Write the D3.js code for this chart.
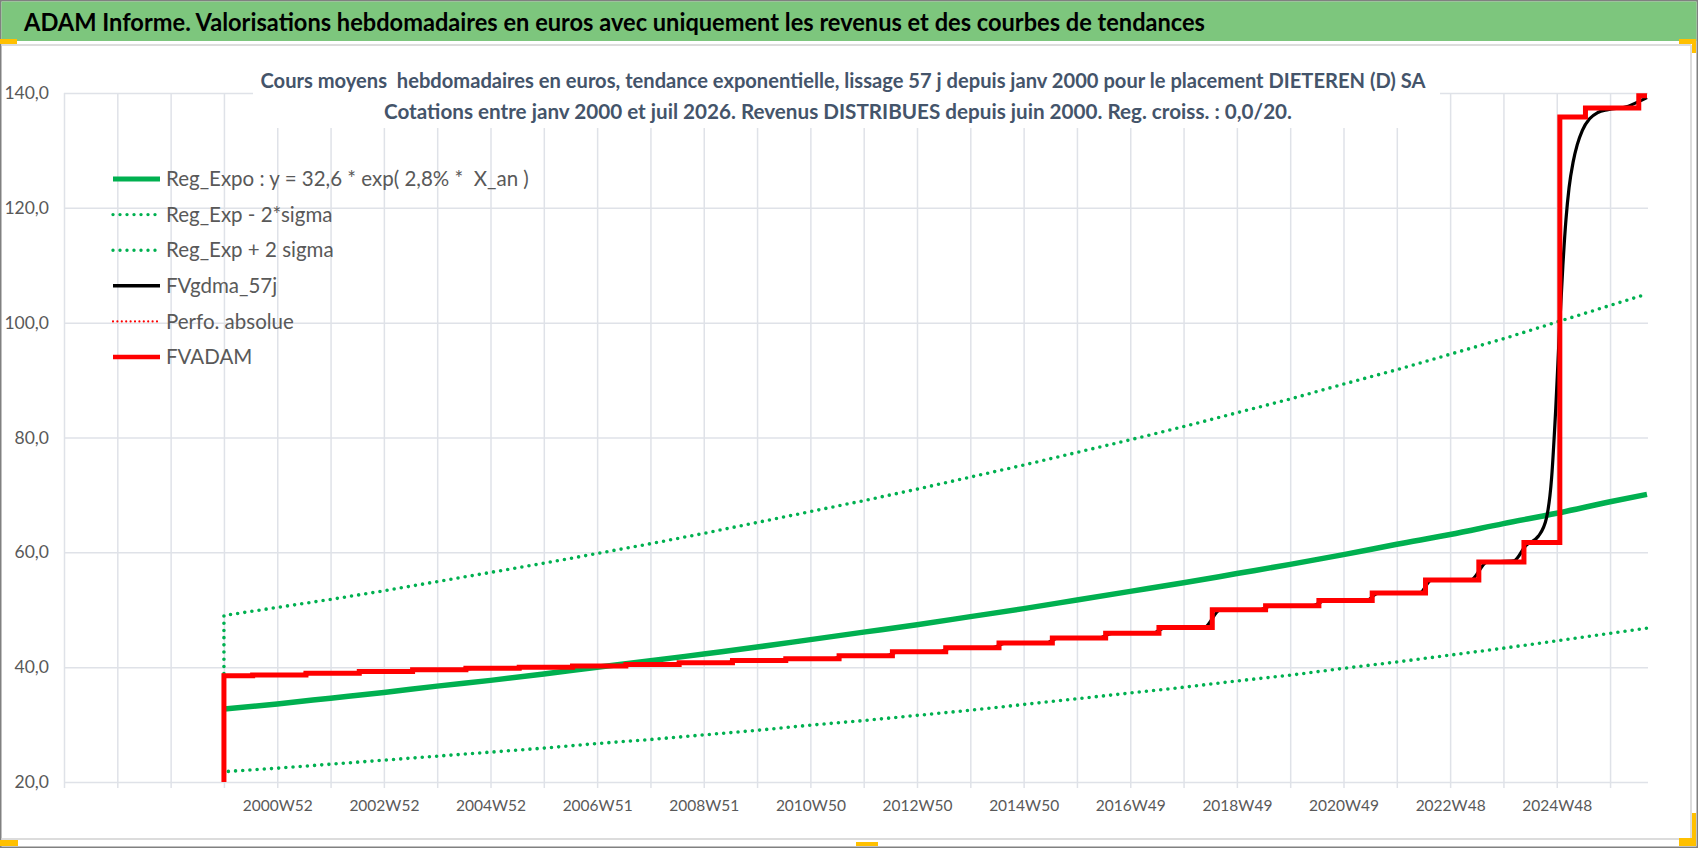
<!DOCTYPE html>
<html><head><meta charset="utf-8">
<script src="https://cdn.jsdelivr.net/npm/d3@7"></script>
<style>html,body{margin:0;padding:0;background:#fff;overflow:hidden}svg{display:block}text{white-space:pre}</style>
</head><body>
<svg id="c" width="1698" height="848"></svg>
<script>
// ---------------- DATA ----------------
const mainTitle = "ADAM Informe. Valorisations hebdomadaires en euros avec uniquement les revenus et des courbes de tendances";
const subTitle1 = "Cours moyens  hebdomadaires en euros, tendance exponentielle, lissage 57 j depuis janv 2000 pour le placement DIETEREN (D) SA";
const subTitle2 = "Cotations entre janv 2000 et juil 2026. Revenus DISTRIBUES depuis juin 2000. Reg. croiss. : 0,0/20.";
const legendLabels = ["Reg_Expo : y = 32,6 * exp( 2,8% *  X_an )", "Reg_Exp - 2*sigma", "Reg_Exp + 2 sigma", "FVgdma_57j", "Perfo. absolue", "FVADAM"];
const yTicks = [20, 40, 60, 80, 100, 120, 140];
const xTickLabels = ["2000W52","2002W52","2004W52","2006W51","2008W51","2010W50","2012W50","2014W50","2016W49","2018W49","2020W49","2022W48","2024W48"];
const xLabelTickIdx = [4,6,8,10,12,14,16,18,20,22,24,26,28];   // in units of 52-week ticks
const weeksBeforeStart = 156;   // empty categories before janv 2000
const totalCategories = 1545;
const preStartValue = 0;        // blank cells plotted as zero before the first quote

// trend curves, sampled yearly (weeks since janv 2000)
const trendWeeks = [0,52,104,156,208,260,312,364,416,468,520,572,624,676,728,780,832,884,936,988,1040,1092,1144,1196,1248,1300,1352,1388];
const regExpo  = [32.7,33.6,34.6,35.6,36.7,37.7,38.8,40.0,41.1,42.3,43.5,44.8,46.1,47.4,48.8,50.2,51.7,53.2,54.7,56.3,57.9,59.6,61.4,63.1,65.0,66.8,68.8,70.1];
const regMinus = [21.8,22.4,23.1,23.8,24.5,25.2,25.9,26.7,27.4,28.2,29.0,29.9,30.7,31.6,32.5,33.5,34.5,35.5,36.5,37.6,38.6,39.8,40.9,42.1,43.3,44.6,45.9,46.8];
const regPlus  = [49.0,50.4,51.8,53.3,54.9,56.5,58.1,59.8,61.5,63.3,65.2,67.1,69.0,71.0,73.1,75.2,77.4,79.6,81.9,84.3,86.7,89.3,91.8,94.5,97.2,100.1,103.0,105.0];

// FVADAM step series (week of change, value)
const redWeeks  = [0,28,80,132,184,236,288,340,392,444,496,548,600,652,704,756,808,860,912,964,1016,1068,1120,1172,1224,1268,1303,1328,1380,1388];
const redValues = [38.5,38.65,38.95,39.25,39.55,39.8,40.0,40.2,40.45,40.75,41.15,41.45,42.0,42.7,43.4,44.2,45.1,45.9,46.9,50.0,50.7,51.6,52.9,55.2,58.3,61.7,135.8,137.4,139.5,139.5];

// FVgdma_57j smoothed series
const blackWeeks  = [0,22,34,74,86,126,138,178,190,230,242,282,294,334,346,386,398,438,450,490,502,542,554,594,606,646,658,698,710,750,762,802,814,854,866,906,918,956,972,1010,1022,1062,1074,1114,1126,1166,1178,1216,1232,1258,1270,1282,1290,1295,1299,1303,1306,1309,1312,1316,1320,1325,1332,1340,1350,1368,1381,1388];
const blackValues = [38.5,38.5,38.65,38.65,38.95,38.95,39.25,39.25,39.55,39.55,39.8,39.8,40.0,40.0,40.2,40.2,40.45,40.45,40.75,40.75,41.15,41.15,41.45,41.45,42.0,42.0,42.7,42.7,43.4,43.4,44.2,44.2,45.1,45.1,45.9,45.9,46.9,46.9,50.0,50.0,50.7,50.7,51.6,51.6,52.9,52.9,55.2,55.2,58.3,58.5,61.2,62.8,66,73,85,100,110,118,123.5,128,131,133.5,135.5,136.6,137.1,137.6,138.6,139.2];

// ---------------- CHART ----------------
const svg = d3.select("#c");
const FONT = "Lato, 'Open Sans', 'DejaVu Sans', sans-serif";
const GREEN = "#00B050", RED = "#FF0000", GRID = "#dfe2e8";

const x = d3.scaleLinear().domain([0, totalCategories]).range([64, 1648]);
const y = d3.scaleLinear().domain([20, 140]).range([782, 93]);
const xw = w => x(w + weeksBeforeStart);

// frame
svg.append("rect").attr("x",0.75).attr("y",0.75).attr("width",1696.5).attr("height",846.5)
  .attr("fill","#fff").attr("stroke","#808080").attr("stroke-width",1.5);
svg.append("rect").attr("x",1.5).attr("y",1.5).attr("width",1695).attr("height",39.5).attr("fill","#7DC67D");
svg.append("line").attr("x1",1.5).attr("x2",1691).attr("y1",45).attr("y2",45).attr("stroke","#dcdcdc").attr("stroke-width",2);
svg.append("line").attr("x1",1691).attr("x2",1691).attr("y1",45).attr("y2",839).attr("stroke","#dcdcdc").attr("stroke-width",2);
svg.append("line").attr("x1",1.5).attr("x2",1691).attr("y1",839).attr("y2",839).attr("stroke","#dcdcdc").attr("stroke-width",2);

// gridlines
const gx = svg.append("g").attr("transform","translate(0,788)")
  .call(d3.axisBottom(x).tickValues(d3.range(0,30).map(k=>k*52)).tickSize(-(788-93)).tickFormat(""));
gx.select(".domain").remove();
gx.selectAll("line").attr("stroke",GRID).attr("stroke-width",1.5);
const gy = svg.append("g").attr("transform","translate(64,0)")
  .call(d3.axisLeft(y).tickValues(yTicks).tickSize(-(1648-64)).tickFormat(""));
gy.select(".domain").remove();
gy.selectAll("line").attr("stroke",GRID).attr("stroke-width",1.5);

// y labels
const yl = svg.append("g").attr("transform","translate(64,0)")
  .call(d3.axisLeft(y).tickValues(yTicks).tickSize(0).tickPadding(15).tickFormat(d=>d3.format(".1f")(d).replace(".",",")));
yl.select(".domain").remove();
yl.selectAll("text").attr("font-family",FONT).attr("font-size",17.5).attr("fill","#595959");

// x labels
const xl = svg.append("g").attr("transform","translate(0,800)")
  .call(d3.axisBottom(x).tickValues(xLabelTickIdx.map(k=>k*52)).tickSize(0).tickPadding(0)
    .tickFormat((d,i)=>xTickLabels[i]));
xl.select(".domain").remove();
xl.selectAll("text").attr("font-family",FONT).attr("font-size",15.5).attr("fill","#595959").attr("dy","0.71em");

// title box (white, hides gridlines)
svg.append("rect").attr("x",253).attr("y",47).attr("width",1187).attr("height",81).attr("fill","#fff");

// main title
svg.append("text").attr("x",24).attr("y",31).text(mainTitle)
  .attr("font-family",FONT).attr("font-weight",700).attr("font-size",25).attr("fill","#000")
  .attr("textLength",1181).attr("lengthAdjust","spacingAndGlyphs");
svg.append("text").attr("x",843).attr("y",88).attr("text-anchor","middle").text(subTitle1)
  .attr("font-family",FONT).attr("font-weight",700).attr("font-size",21).attr("fill","#44546A")
  .attr("textLength",1165).attr("lengthAdjust","spacingAndGlyphs");
svg.append("text").attr("x",838).attr("y",119).attr("text-anchor","middle").text(subTitle2)
  .attr("font-family",FONT).attr("font-weight",700).attr("font-size",21).attr("fill","#44546A")
  .attr("textLength",908).attr("lengthAdjust","spacingAndGlyphs");

// clip
svg.append("clipPath").attr("id","pc").append("rect").attr("x",64).attr("y",80).attr("width",1590).attr("height",702);
const plot = svg.append("g").attr("clip-path","url(#pc)");

const trendPts = (vals, withDrop) => {
  const p = trendWeeks.map((w,i)=>[w, vals[i]]);
  return withDrop ? [[0, preStartValue]].concat(p) : p;
};
const lineT = d3.line().x(d=>xw(d[0])).y(d=>y(d[1])).curve(d3.curveMonotoneX);
const lineLin = d3.line().x(d=>xw(d[0])).y(d=>y(d[1]));

plot.append("path").attr("d", lineLin(trendPts(regMinus,true))).attr("fill","none")
  .attr("stroke",GREEN).attr("stroke-width",3.6).attr("stroke-linecap","round").attr("stroke-dasharray","0 7.2");
plot.append("path").attr("d", lineLin(trendPts(regPlus,true))).attr("fill","none")
  .attr("stroke",GREEN).attr("stroke-width",3.6).attr("stroke-linecap","round").attr("stroke-dasharray","0 7.2");
plot.append("path").attr("d", lineT(trendPts(regExpo,false))).attr("fill","none")
  .attr("stroke",GREEN).attr("stroke-width",5.5);

const blackPts = blackWeeks.map((w,i)=>[w, blackValues[i]]);
plot.append("path").attr("d", lineT(blackPts)).attr("fill","none")
  .attr("stroke","#000").attr("stroke-width",3.2).attr("stroke-linejoin","round");

const redPts = [[0, preStartValue]].concat(redWeeks.map((w,i)=>[w, redValues[i]]));
plot.append("path").attr("d", d3.line().x(d=>xw(d[0])).y(d=>y(d[1])).curve(d3.curveStepAfter)(redPts))
  .attr("fill","none").attr("stroke",RED).attr("stroke-width",5).attr("stroke-linejoin","miter");

// legend
const legStyles = [
  {c:GREEN, w:5, dash:null},
  {c:GREEN, w:3.4, dash:"0 7", cap:"round"},
  {c:GREEN, w:3.4, dash:"0 7", cap:"round"},
  {c:"#000", w:3.5, dash:null},
  {c:RED, w:2.2, dash:"0 4.4", cap:"round"},
  {c:RED, w:4.5, dash:null}
];
const legY = d3.scaleLinear().domain([0,5]).range([179,357]);
const lg = svg.append("g");
legendLabels.forEach((t,i)=>{
  const s = legStyles[i];
  lg.append("line").attr("x1",113).attr("x2",160).attr("y1",legY(i)).attr("y2",legY(i))
    .attr("stroke",s.c).attr("stroke-width",s.w)
    .attr("stroke-dasharray",s.dash).attr("stroke-linecap",s.cap||"butt");
  lg.append("text").attr("x",166).attr("y",legY(i)).attr("dy","0.35em").text(t)
    .attr("font-family",FONT).attr("font-size",20.5).attr("fill","#595959");
});

// selection handles
const Y = "#FFC000";
[[0,39,17,5],[1679,39,17,5],[1692,39,4,14],[0,840,18,6],[1679,838,17,8],[1692,813,4,33],[856,842,22,4]]
  .forEach(r=>svg.append("rect").attr("x",r[0]).attr("y",r[1]).attr("width",r[2]).attr("height",r[3]).attr("fill",Y));
</script>
</body></html>
